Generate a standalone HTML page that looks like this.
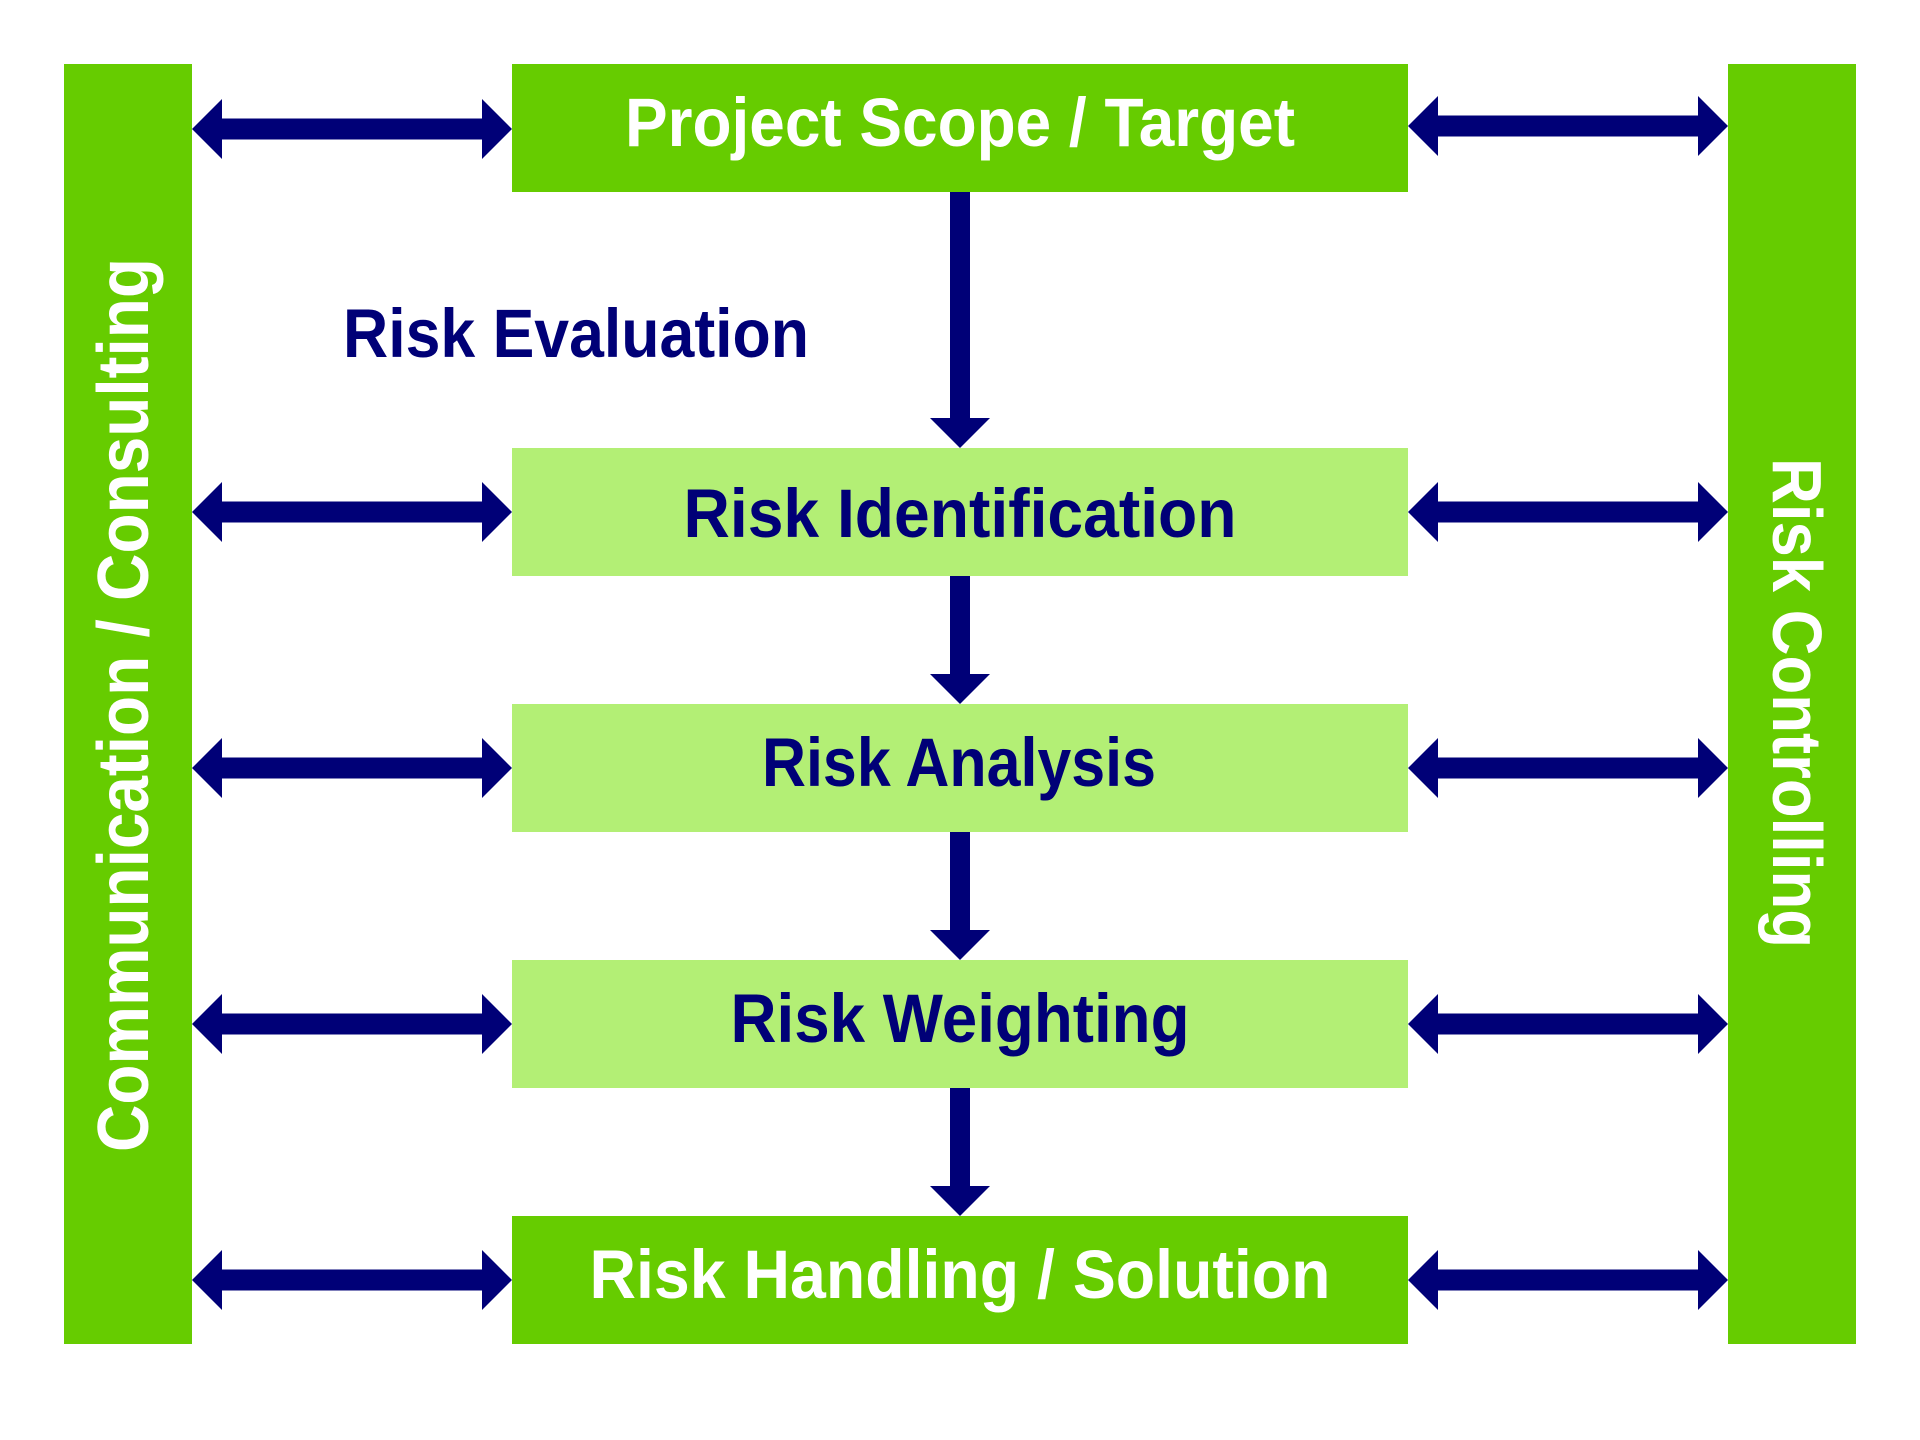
<!DOCTYPE html>
<html>
<head>
<meta charset="utf-8">
<style>
  html, body { margin: 0; padding: 0; background: #ffffff; }
  svg { display: block; }
  text { font-family: "Liberation Sans", Arial, sans-serif; font-weight: bold; }
</style>
</head>
<body>
<svg width="1920" height="1440" viewBox="0 0 1920 1440" xmlns="http://www.w3.org/2000/svg">
  <rect x="0" y="0" width="1920" height="1440" fill="#ffffff"/>

  <!-- side bars -->
  <rect x="64" y="64" width="128" height="1280" fill="#66cc00"/>
  <rect x="1728" y="64" width="128" height="1280" fill="#66cc00"/>

  <!-- center boxes -->
  <rect x="512" y="64" width="896" height="128" fill="#66cc00"/>
  <rect x="512" y="448" width="896" height="128" fill="#b3ef75"/>
  <rect x="512" y="704" width="896" height="128" fill="#b3ef75"/>
  <rect x="512" y="960" width="896" height="128" fill="#b3ef75"/>
  <rect x="512" y="1216" width="896" height="128" fill="#66cc00"/>

  <!-- horizontal double arrows: left side -->
  <g fill="#000077">
    <polygon points="192,129 222,99 222,118.5 482,118.5 482,99 512,129 482,159 482,139.5 222,139.5 222,159"/>
    <polygon points="192,512 222,482 222,501.5 482,501.5 482,482 512,512 482,542 482,522.5 222,522.5 222,542"/>
    <polygon points="192,768 222,738 222,757.5 482,757.5 482,738 512,768 482,798 482,778.5 222,778.5 222,798"/>
    <polygon points="192,1024 222,994 222,1013.5 482,1013.5 482,994 512,1024 482,1054 482,1034.5 222,1034.5 222,1054"/>
    <polygon points="192,1280 222,1250 222,1269.5 482,1269.5 482,1250 512,1280 482,1310 482,1290.5 222,1290.5 222,1310"/>
  </g>

  <!-- horizontal double arrows: right side -->
  <g fill="#000077">
    <polygon points="1408,126 1438,96 1438,115.5 1698,115.5 1698,96 1728,126 1698,156 1698,136.5 1438,136.5 1438,156"/>
    <polygon points="1408,512 1438,482 1438,501.5 1698,501.5 1698,482 1728,512 1698,542 1698,522.5 1438,522.5 1438,542"/>
    <polygon points="1408,768 1438,738 1438,757.5 1698,757.5 1698,738 1728,768 1698,798 1698,778.5 1438,778.5 1438,798"/>
    <polygon points="1408,1024 1438,994 1438,1013.5 1698,1013.5 1698,994 1728,1024 1698,1054 1698,1034.5 1438,1034.5 1438,1054"/>
    <polygon points="1408,1280 1438,1250 1438,1269.5 1698,1269.5 1698,1250 1728,1280 1698,1310 1698,1290.5 1438,1290.5 1438,1310"/>
  </g>

  <!-- vertical down arrows -->
  <g fill="#000077">
    <polygon points="950,192 970,192 970,418 990,418 960,448 930,418 950,418"/>
    <polygon points="950,576 970,576 970,674 990,674 960,704 930,674 950,674"/>
    <polygon points="950,832 970,832 970,930 990,930 960,960 930,930 950,930"/>
    <polygon points="950,1088 970,1088 970,1186 990,1186 960,1216 930,1186 950,1186"/>
  </g>

  <!-- box labels -->
  <text x="960" y="146" font-size="69" fill="#ffffff" text-anchor="middle" textLength="670" lengthAdjust="spacingAndGlyphs">Project Scope / Target</text>
  <text x="576" y="357" font-size="69" fill="#000077" text-anchor="middle" textLength="466" lengthAdjust="spacingAndGlyphs">Risk Evaluation</text>
  <text x="960" y="537" font-size="69" fill="#000077" text-anchor="middle" textLength="553" lengthAdjust="spacingAndGlyphs">Risk Identification</text>
  <text x="959" y="786" font-size="69" fill="#000077" text-anchor="middle" textLength="394" lengthAdjust="spacingAndGlyphs">Risk Analysis</text>
  <text x="960" y="1042" font-size="69" fill="#000077" text-anchor="middle" textLength="459" lengthAdjust="spacingAndGlyphs">Risk Weighting</text>
  <text x="960" y="1298" font-size="69" fill="#ffffff" text-anchor="middle" textLength="741" lengthAdjust="spacingAndGlyphs">Risk Handling / Solution</text>

  <!-- vertical side labels -->
  <text transform="translate(148,705) rotate(-90)" x="0" y="0" font-size="72" fill="#ffffff" text-anchor="middle" textLength="894" lengthAdjust="spacingAndGlyphs">Communication / Consulting</text>
  <text transform="translate(1773,703) rotate(90)" x="0" y="0" font-size="70" fill="#ffffff" text-anchor="middle" textLength="490" lengthAdjust="spacingAndGlyphs">Risk Controlling</text>
</svg>
</body>
</html>
